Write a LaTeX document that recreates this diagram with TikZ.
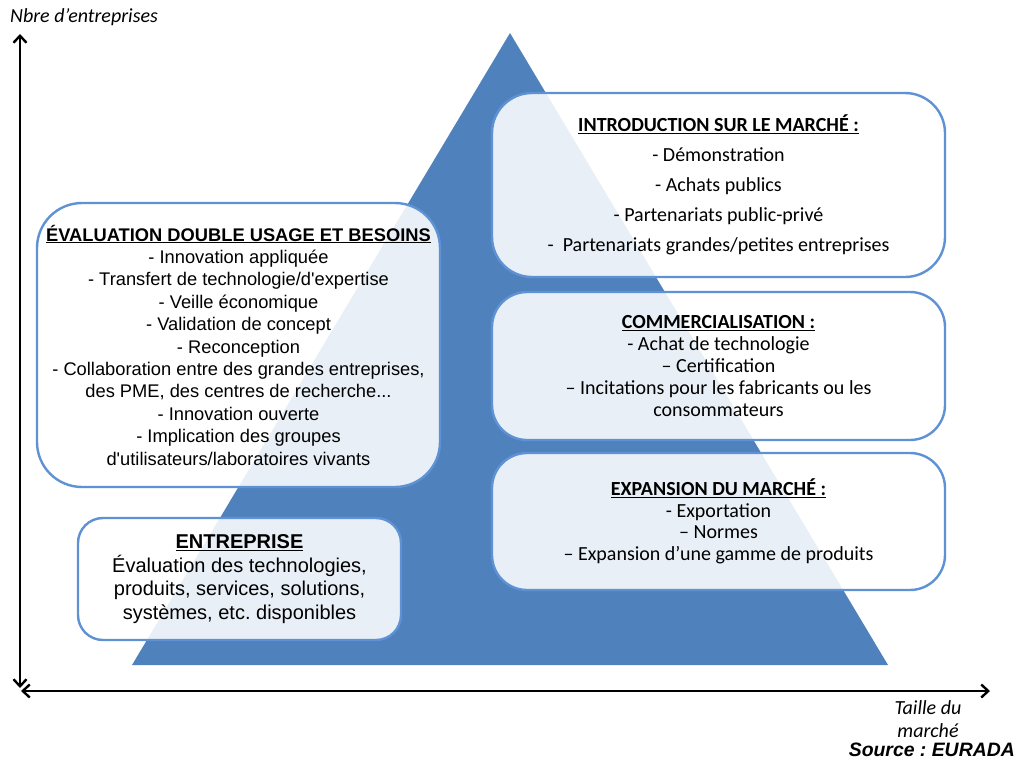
\documentclass[tikz,border=0pt]{standalone}
\usepackage{fontspec}
\setmainfont{Liberation Sans}
\newfontfamily\calib{Carlito}
\usetikzlibrary{arrows.meta}
\definecolor{pyrblue}{HTML}{4F81BD}
\definecolor{boxline}{HTML}{5E92D4}
\tikzset{
  axis/.style={line width=2.6pt, {Straight Barb[length=7pt,width=13pt,line width=2.4pt]}-{Straight Barb[length=7pt,width=13pt,line width=2.4pt]}},
  stagebox/.style={draw=boxline, line width=2.4pt, fill=white, fill opacity=0.875,
    text opacity=1, align=center, inner sep=0pt, text=black},
  leftbox/.style={stagebox, font=\fontsize{18.3}{22.4}\selectfont},
  rightbox/.style={stagebox, font=\calib\fontsize{20}{22}\selectfont},
  axislabel/.style={font=\calib\itshape\fontsize{20}{23}\selectfont, inner sep=0pt, align=center}
}
\begin{document}
\frenchspacing
\begin{tikzpicture}[x=1pt, y=-1pt]
\useasboundingbox (0,0) rectangle (1022,760);
% pyramid
\fill[pyrblue] (510,33) -- (888,665) -- (132,665) -- cycle;
% axes
\coordinate (ytop) at (20,34);
\coordinate (ybot) at (20,688);
\coordinate (xleft) at (21,691);
\coordinate (xright) at (990,691);
\draw[axis] (ybot) -- (ytop);
\draw[axis] (xleft) -- (xright);
% left column boxes
\node[leftbox, rounded corners=45pt, minimum width=403pt, minimum height=284pt] (eval) at (238.5,345) {%
  \textbf{\underline{ÉVALUATION DOUBLE USAGE ET BESOINS}}\\
  - Innovation appliquée\\
  - Transfert de technologie/d\textquotesingle expertise\\
  - Veille économique\\
  - Validation de concept\\
  - Reconception\\
  - Collaboration entre des grandes entreprises,\\
  des PME, des centres de recherche...\\
  - Innovation ouverte\\
  - Implication des groupes\\
  d\textquotesingle utilisateurs/laboratoires vivants};
\node[leftbox, rounded corners=25pt, minimum width=323pt, minimum height=122pt,
  font=\fontsize{20}{23.6}\selectfont] (entr) at (239.5,579) {%
  \textbf{\underline{ENTREPRISE}}\\
  Évaluation des technologies,\\
  produits, services, solutions,\\
  systèmes, etc. disponibles};
% right column boxes
\node[rightbox, rounded corners=40pt, minimum width=453pt, minimum height=184pt,
  font=\calib\fontsize{20}{30}\selectfont] (intro) at (718.5,185) {%
  \textbf{\underline{INTRODUCTION SUR LE MARCHÉ :}}\\
  - Démonstration\\
  - Achats publics\\
  - Partenariats public-privé\\
  -\ \ Partenariats grandes/petites entreprises};
\node[rightbox, rounded corners=35pt, minimum width=453pt, minimum height=148pt] (comm) at (718.5,366) {%
  \textbf{\underline{COMMERCIALISATION :}}\\
  - Achat de technologie\\
  – Certification\\
  – Incitations pour les fabricants ou les\\
  consommateurs};
\node[rightbox, rounded corners=35pt, minimum width=453pt, minimum height=137pt,
  font=\calib\fontsize{20}{21.5}\selectfont] (expa) at (718.5,521.5) {%
  \textbf{\underline{EXPANSION DU MARCHÉ :}}\\
  - Exportation\\
  – Normes\\
  – Expansion d’une gamme de produits};
% axis labels and source
\node[axislabel, anchor=base west] (ylab) at (10,23) {Nbre d’entreprises};
\node[axislabel, anchor=base] (xlab) at (928,737) {Taille du\\marché};
\node[font=\bfseries\itshape\fontsize{19.4}{22}\selectfont, inner sep=0pt, anchor=base east] (src) at (1015,756) {Source : EURADA};
\end{tikzpicture}
\end{document}
